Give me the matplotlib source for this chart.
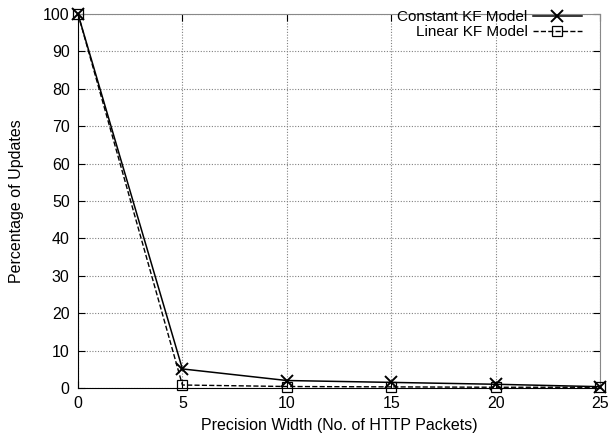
import matplotlib
matplotlib.use("Agg")
import matplotlib.pyplot as plt

plt.rcParams['font.family'] = ['Liberation Sans', 'DejaVu Sans']

# precision width (No. of HTTP packets)
width = [0, 5, 10, 15, 20, 25]
# percentage of updates for each filter model
const_kf = [100, 5.1, 2.0, 1.5, 1.0, 0.35]
linear_kf = [100, 0.8, 0.4, 0.3, 0.2, 0.2]

fig = plt.figure(figsize=(6.08, 4.37), dpi=100)
ax = fig.add_axes([78 / 608, 1 - 388 / 437, 522 / 608, 374 / 437])

ax.plot(width, const_kf, '-', color='black', lw=1.1, marker='x', ms=8, mew=1.4,
        clip_on=False, label='Constant KF Model', zorder=3)
ax.plot(width, linear_kf, '--', color='black', lw=1.0, marker='s', ms=7.5, mfc='none',
        mew=0.9, clip_on=False, label='Linear KF Model', zorder=3)

ax.set_xlim(0, 25)
ax.set_ylim(0, 100)
ax.set_xticks(width)
ax.set_yticks(range(0, 101, 10))
ax.grid(True, ls=(0, (1, 1.5)), color='#808080', lw=0.8)
ax.tick_params(direction='in', length=5, labelsize=11.5, pad=6)
ax.tick_params(axis='x', top=True)
ax.tick_params(axis='y', right=True)
for s in ['top', 'right']:
    ax.spines[s].set_color('#888888')

ax.set_xlabel('Precision Width (No. of HTTP Packets)', fontsize=11.5, labelpad=5)
ax.set_ylabel('Percentage of Updates', fontsize=11.5, labelpad=14)

ax.legend(loc='upper right', bbox_to_anchor=(0.977, 1.026), frameon=False,
          markerfirst=False, fontsize=11, handlelength=3.2, borderaxespad=0,
          labelspacing=0.05, handletextpad=0.35)

fig.savefig('out.png', dpi=100)
